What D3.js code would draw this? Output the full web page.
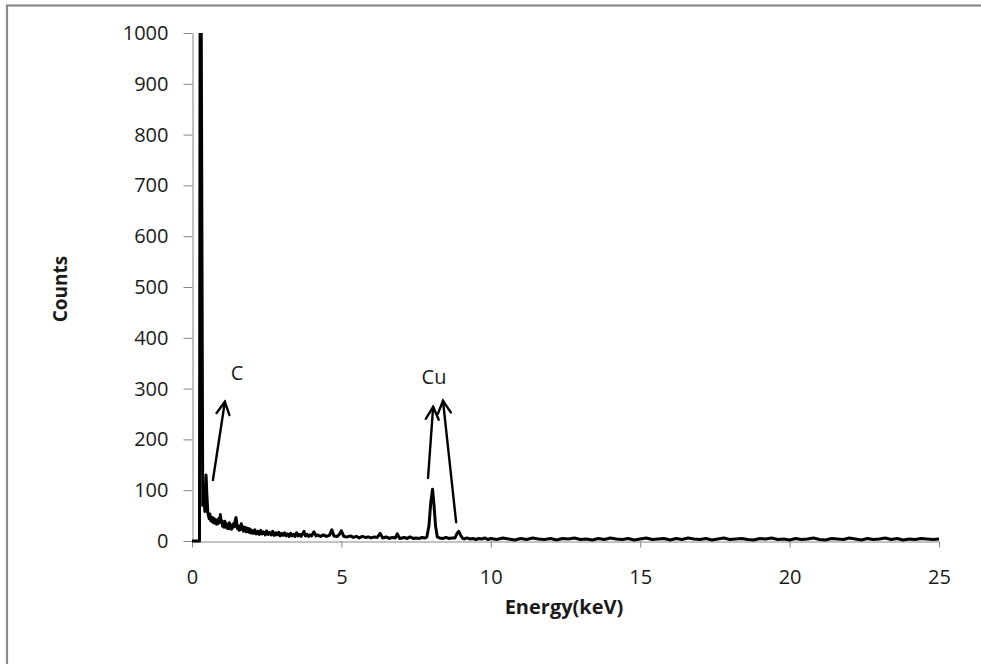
<!DOCTYPE html>
<html>
<head>
<meta charset="utf-8">
<script src="https://cdn.jsdelivr.net/npm/d3@7"></script>
<style>
  body { margin: 0; background: #fff; }
  svg { display: block; font-family: 'Open Sans', sans-serif; }
</style>
</head>
<body>
<svg id="chart" width="981" height="664"></svg>
<script>
// spectrum (keV, counts)
const energy = [
  0, 0.25, 0.27, 0.31, 0.36, 0.40, 0.43, 0.47, 0.50, 0.53,
  0.55, 0.575, 0.6, 0.625, 0.65, 0.675, 0.7, 0.725, 0.75, 0.775, 0.8, 0.825, 0.85, 0.875, 0.9, 0.925, 0.95, 0.975,
  1.0, 1.025, 1.05, 1.075, 1.1, 1.125, 1.15, 1.175, 1.2, 1.225, 1.25, 1.275, 1.3, 1.325, 1.35, 1.375, 1.4, 1.425,
  1.45, 1.475, 1.5, 1.525, 1.55, 1.575, 1.6, 1.625, 1.65, 1.675, 1.7, 1.725, 1.75, 1.775, 1.8, 1.825, 1.85, 1.875,
  1.9, 1.925, 1.95, 1.975,
  2.0, 2.05, 2.1, 2.15, 2.2, 2.25, 2.3, 2.35, 2.4, 2.45, 2.5, 2.55, 2.6, 2.65, 2.7, 2.75, 2.8, 2.85, 2.9, 2.95,
  3.0, 3.05, 3.1, 3.15, 3.2, 3.25, 3.3, 3.35, 3.4, 3.45, 3.5, 3.55, 3.6, 3.65, 3.7, 3.75, 3.8, 3.85, 3.9, 3.95,
  4.00, 4.08, 4.15, 4.20, 4.30, 4.40, 4.50, 4.60, 4.68, 4.75, 4.85, 4.92,
  5.00, 5.08, 5.20, 5.30, 5.40, 5.50, 5.60, 5.70, 5.80, 5.90,
  6.00, 6.10, 6.20, 6.30, 6.38, 6.50, 6.60, 6.70, 6.80, 6.87, 6.95,
  7.10, 7.20, 7.30, 7.40, 7.50, 7.60, 7.70, 7.80, 7.86, 7.93, 7.99,
  8.05, 8.10, 8.15, 8.21, 8.28, 8.40, 8.50, 8.60, 8.70, 8.80, 8.87, 8.93,
  9.00, 9.06, 9.10, 9.20, 9.30, 9.40, 9.50, 9.60, 9.70, 9.80, 9.90,
  10.0, 10.2, 10.4, 10.6, 10.8, 11.0, 11.2, 11.4, 11.6, 11.8, 12.0, 12.2, 12.4, 12.6, 12.8,
  13.0, 13.2, 13.4, 13.6, 13.8, 14.0, 14.2, 14.4, 14.6, 14.8, 15.0, 15.2, 15.4, 15.6, 15.8,
  16.0, 16.2, 16.4, 16.6, 16.8, 17.0, 17.2, 17.4, 17.6, 17.8, 18.0, 18.2, 18.4, 18.6, 18.8,
  19.0, 19.2, 19.4, 19.6, 19.8, 20.0, 20.2, 20.4, 20.6, 20.8, 21.0, 21.2, 21.4, 21.6, 21.8,
  22.0, 22.2, 22.4, 22.6, 22.8, 23.0, 23.2, 23.4, 23.6, 23.8, 24.0, 24.2, 24.4, 24.6, 24.8, 25.0
];
const counts = [
  0, 0, 1000, 1000, 70, 95, 58, 130, 88, 55,
  50, 44, 53, 40, 47, 38, 46, 36, 44, 35, 42, 33, 40, 34, 45, 38, 52, 36,
  40, 29, 37, 27, 39, 28, 34, 25, 33, 24, 36, 26, 30, 23, 32, 27, 35, 28,
  42, 46, 33, 24, 30, 21, 29, 22, 34, 23, 28, 19, 27, 20, 26, 18, 25, 19,
  24, 17, 23, 16,
  21, 15, 22, 14, 19, 13, 21, 14, 18, 12, 20, 13, 17, 12, 19, 11, 16, 12, 17, 10,
  15, 11, 16, 10, 14, 9, 15, 10, 13, 9, 16, 10, 13, 9, 14, 19, 10, 13, 9, 12,
  10, 18, 10, 12, 9, 12, 9, 11, 22, 10, 9, 12,
  20, 9, 8, 10, 7, 9, 6, 9, 7, 8,
  6, 8, 7, 15, 6, 8, 5, 7, 6, 14, 5,
  7, 5, 8, 5, 6, 5, 7, 6, 8, 30, 75,
  102, 70, 30, 8, 6, 5, 7, 5, 6, 6, 15, 19,
  10, 5, 4, 6, 4, 5, 3, 5, 4, 6, 3,
  5, 3, 6, 4, 2, 5, 3, 6, 4, 3, 5, 2, 5, 4, 6,
  3, 4, 2, 5, 3, 6, 4, 3, 5, 2, 4, 6, 3, 4, 5,
  2, 5, 3, 6, 4, 3, 5, 2, 4, 6, 3, 4, 5, 3, 2,
  5, 4, 6, 3, 4, 2, 5, 3, 4, 6, 3, 2, 5, 4, 3,
  6, 4, 2, 5, 3, 4, 6, 3, 5, 2, 4, 3, 5, 4, 3, 4
];

const xTicks = [0, 5, 10, 15, 20, 25];
const yTicks = [0, 100, 200, 300, 400, 500, 600, 700, 800, 900, 1000];

// annotation arrows: [tailE, tailC, tipE, tipC]
const arrows = [
  [0.70, 120, 1.10, 274],
  [7.90, 124, 8.07, 264],
  [8.84, 37, 8.40, 276]
];
const labels = [
  { text: 'C', e: 1.51, c: 331 },
  { text: 'Cu', e: 8.10, c: 323 }
];

const svg = d3.select('#chart');

svg.append('rect')
  .attr('x', 7).attr('y', 5.5)
  .attr('width', 1000).attr('height', 700)
  .attr('fill', '#fff')
  .attr('stroke', '#8a8a8a')
  .attr('stroke-width', 2.2);

const x = d3.scaleLinear().domain([0, 25]).range([192, 939]);
const y = d3.scaleLinear().domain([0, 1000]).range([541, 33]);

const axisColor = '#868686';
const textColor = '#1a1a1a';

// y axis
const yAxis = svg.append('g')
  .attr('transform', 'translate(192.5,0)')
  .call(d3.axisLeft(y).tickValues(yTicks).tickFormat(d3.format('d')).tickSize(9).tickSizeOuter(0).tickPadding(15));
yAxis.select('.domain').attr('stroke', axisColor);
yAxis.selectAll('.tick line').attr('stroke', axisColor);
yAxis.selectAll('.tick text')
  .attr('fill', textColor)
  .style('font-size', '20px')
  .style('font-family', "'Open Sans', sans-serif");

// x axis
const xAxis = svg.append('g')
  .attr('transform', 'translate(0,541.5)')
  .call(d3.axisBottom(x).tickValues(xTicks).tickFormat(d3.format('d')).tickSize(6).tickSizeOuter(0).tickPadding(22));
xAxis.select('.domain').attr('stroke', axisColor);
xAxis.selectAll('.tick line').attr('stroke', axisColor);
xAxis.selectAll('.tick text')
  .attr('fill', textColor)
  .style('font-size', '20px')
  .style('font-family', "'Open Sans', sans-serif");

// axis titles
svg.append('text')
  .attr('transform', 'translate(60,289) rotate(-90)')
  .attr('text-anchor', 'middle')
  .attr('dominant-baseline', 'central')
  .attr('fill', textColor)
  .style('font-size', '19px')
  .style('font-weight', 'bold')
  .text('Counts');

svg.append('text')
  .attr('x', 564)
  .attr('y', 606)
  .attr('text-anchor', 'middle')
  .attr('dominant-baseline', 'central')
  .attr('fill', textColor)
  .style('font-size', '20px')
  .style('font-weight', 'bold')
  .text('Energy(keV)');

// spectrum line
svg.append('clipPath').attr('id', 'plotClip')
  .append('rect').attr('x', 150).attr('y', 33).attr('width', 800).attr('height', 520);

const line = d3.line()
  .x((d, i) => x(energy[i]))
  .y(d => y(d));

svg.append('path')
  .datum(counts)
  .attr('clip-path', 'url(#plotClip)')
  .attr('fill', 'none')
  .attr('stroke', '#000')
  .attr('stroke-width', 3)
  .attr('stroke-linejoin', 'round')
  .attr('d', line);

// arrows with open heads
const headLen = 14;
const headAng = Math.PI / 6.5;
arrows.forEach(a => {
  const x1 = x(a[0]), y1 = y(a[1]), x2 = x(a[2]), y2 = y(a[3]);
  const ang = Math.atan2(y2 - y1, x2 - x1);
  const g = svg.append('g').attr('stroke', '#000').attr('stroke-width', 2.4).attr('fill', 'none')
    .attr('stroke-linecap', 'round');
  g.append('line').attr('x1', x1).attr('y1', y1).attr('x2', x2).attr('y2', y2);
  g.append('path').attr('d', d3.line()([
    [x2 - headLen * Math.cos(ang - headAng), y2 - headLen * Math.sin(ang - headAng)],
    [x2, y2],
    [x2 - headLen * Math.cos(ang + headAng), y2 - headLen * Math.sin(ang + headAng)]
  ]));
});

svg.selectAll('text.note')
  .data(labels)
  .enter()
  .append('text')
  .attr('class', 'note')
  .attr('x', d => x(d.e))
  .attr('y', d => y(d.c))
  .attr('text-anchor', 'middle')
  .attr('dominant-baseline', 'central')
  .attr('fill', textColor)
  .style('font-size', '20px')
  .text(d => d.text);
</script>
</body>
</html>
